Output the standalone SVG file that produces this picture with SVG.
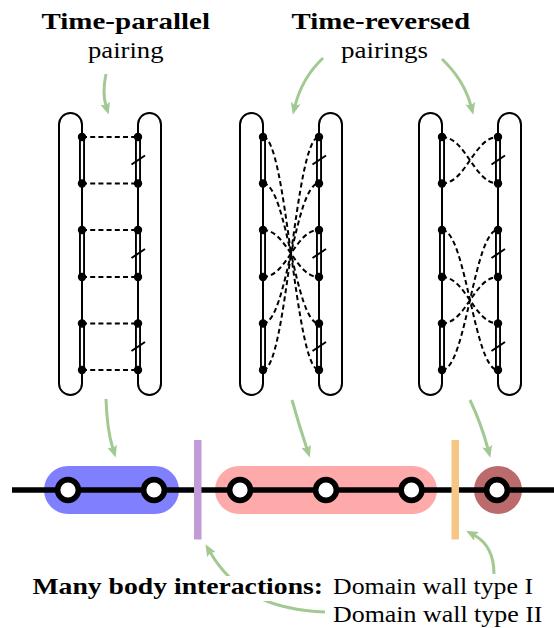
<svg xmlns="http://www.w3.org/2000/svg" width="554" height="628" viewBox="0 0 554 628">
<defs>
<style>
.t{font-family:"Liberation Serif","DejaVu Serif",serif;font-size:24px;fill:#000}
.b{font-weight:bold}
.pill{fill:none;stroke:#000;stroke-width:2}
.dbl{stroke:#000;stroke-width:6}
.dblw{stroke:#fff;stroke-width:2.2}
.sl{stroke:#000;stroke-width:2}
.dash{fill:none;stroke:#000;stroke-width:2;stroke-dasharray:5 3.2}
.dot{fill:#000}
.g{fill:none;stroke:#a3c993;stroke-width:3}
.site{fill:#fff;stroke:#000;stroke-width:5.6}
</style>
<marker id="ah" viewBox="0 0 12 10" refX="3" refY="5" markerWidth="12" markerHeight="10" markerUnits="userSpaceOnUse" orient="auto">
<path d="M0,0 L12,5 L0,10 L2.5,5 z" fill="#a3c993"/>
</marker>
<g id="lad">
<line class="dbl" x1="0" y1="137" x2="0" y2="183.5"/><line class="dblw" x1="0" y1="137" x2="0" y2="183.5"/>
<line class="dbl" x1="0" y1="230" x2="0" y2="277"/><line class="dblw" x1="0" y1="230" x2="0" y2="277"/>
<line class="dbl" x1="0" y1="323.5" x2="0" y2="370"/><line class="dblw" x1="0" y1="323.5" x2="0" y2="370"/>
</g>
<g id="dots">
<circle class="dot" cx="0" cy="137" r="4.2"/><circle class="dot" cx="0" cy="183.5" r="4.2"/>
<circle class="dot" cx="0" cy="230" r="4.2"/><circle class="dot" cx="0" cy="277" r="4.2"/>
<circle class="dot" cx="0" cy="323.5" r="4.2"/><circle class="dot" cx="0" cy="370" r="4.2"/>
</g>
<g id="slashes">
<line class="sl" x1="-6.5" y1="164.5" x2="7" y2="155.5"/>
<line class="sl" x1="-6.5" y1="258" x2="7" y2="249"/>
<line class="sl" x1="-6.5" y1="351" x2="7" y2="342"/>
</g>
</defs>
<rect width="554" height="628" fill="#fff"/>

<g id="title-parallel">
<text class="t b" x="41.5" y="29" textLength="168.5" lengthAdjust="spacingAndGlyphs">Time-parallel</text>
<text class="t" x="88" y="58" textLength="75.5" lengthAdjust="spacingAndGlyphs">pairing</text>
</g>
<g id="title-reversed">
<text class="t b" x="291.5" y="29" textLength="178.5" lengthAdjust="spacingAndGlyphs">Time-reversed</text>
<text class="t" x="341" y="58" textLength="87" lengthAdjust="spacingAndGlyphs">pairings</text>
</g>

<g id="diagram-parallel">
<rect class="pill" x="59" y="113" width="23" height="282" rx="11.5"/>
<rect class="pill" x="138" y="113" width="23" height="282" rx="11.5"/>
<use href="#lad" x="82"/><use href="#lad" x="138"/>
<use href="#slashes" x="138"/>
<g class="dash">
<line x1="82" y1="137" x2="138" y2="137"/><line x1="82" y1="183.5" x2="138" y2="183.5"/>
<line x1="82" y1="230" x2="138" y2="230"/><line x1="82" y1="277" x2="138" y2="277"/>
<line x1="82" y1="323.5" x2="138" y2="323.5"/><line x1="82" y1="370" x2="138" y2="370"/>
</g>
<use href="#dots" x="82"/><use href="#dots" x="138"/>
</g>

<g id="diagram-reversed-1">
<rect class="pill" x="240" y="113" width="23" height="282" rx="11.5"/>
<rect class="pill" x="319" y="113" width="23" height="282" rx="11.5"/>
<use href="#lad" x="263"/><use href="#lad" x="319"/>
<use href="#slashes" x="319"/>
<g class="dash">
<path d="M263,137 C287,137 295,370 319,370"/>
<path d="M263,183.5 C287,183.5 295,323.5 319,323.5"/>
<path d="M263,230 C287,230 295,277 319,277"/>
<path d="M263,277 C287,277 295,230 319,230"/>
<path d="M263,323.5 C287,323.5 295,183.5 319,183.5"/>
<path d="M263,370 C287,370 295,137 319,137"/>
</g>
<use href="#dots" x="263"/><use href="#dots" x="319"/>
</g>

<g id="diagram-reversed-2">
<rect class="pill" x="419" y="113" width="23" height="282" rx="11.5"/>
<rect class="pill" x="498" y="113" width="23" height="282" rx="11.5"/>
<use href="#lad" x="442"/><use href="#lad" x="498"/>
<use href="#slashes" x="498"/>
<g class="dash">
<path d="M442,137 C466,137 474,183.5 498,183.5"/>
<path d="M442,183.5 C466,183.5 474,137 498,137"/>
<path d="M442,230 C466,230 474,370 498,370"/>
<path d="M442,277 C466,277 474,323.5 498,323.5"/>
<path d="M442,323.5 C466,323.5 474,277 498,277"/>
<path d="M442,370 C466,370 474,230 498,230"/>
</g>
<use href="#dots" x="442"/><use href="#dots" x="498"/>
</g>

<g id="chain">
<rect x="44" y="466" width="135" height="48" rx="24" fill="#8080ff"/>
<rect x="215" y="466" width="222" height="48" rx="24" fill="#ffaaaa"/>
<circle cx="498" cy="490" r="24" fill="#bb6b6b"/>
<line x1="12" y1="490" x2="554" y2="490" stroke="#000" stroke-width="5.3"/>
<circle class="site" cx="68" cy="490" r="10.4"/>
<circle class="site" cx="154" cy="490" r="10.4"/>
<circle class="site" cx="240" cy="490" r="10.4"/>
<circle class="site" cx="326" cy="490" r="10.4"/>
<circle class="site" cx="411.5" cy="490" r="10.4"/>
<circle class="site" cx="497" cy="490" r="10.4"/>
</g>
<g id="wall-I"><rect x="194" y="440" width="7.5" height="99.5" fill="#c39bd9"/></g>
<g id="wall-II"><rect x="451.5" y="440" width="7.5" height="99.5" fill="#f5c684"/></g>

<g id="connectors">
<path class="g" marker-end="url(#ah)" d="M106,74 Q102,93 106,106"/>
<path class="g" marker-end="url(#ah)" d="M323,58 Q302,78 295,106"/>
<path class="g" marker-end="url(#ah)" d="M442,59 Q464,80 471,106"/>
<path class="g" marker-end="url(#ah)" d="M106,399 Q107,430 113,449"/>
<path class="g" marker-end="url(#ah)" d="M292,400 Q299,425 307,449"/>
<path class="g" marker-end="url(#ah)" d="M470,400 Q481,423 488,449"/>
<path class="g" marker-end="url(#ah)" d="M325,612 C275,610 235,595 210,552"/>
<path class="g" marker-end="url(#ah)" d="M494,574 Q494,546 474,535"/>
</g>

<g id="label-many-body">
<rect x="30" y="576" width="298" height="25" fill="#fff"/>
<text class="t b" x="32.5" y="594" textLength="290.5" lengthAdjust="spacingAndGlyphs">Many body interactions:</text>
</g>
<g id="label-wall-I">
<text class="t" x="333" y="594" textLength="200" lengthAdjust="spacingAndGlyphs">Domain wall type I</text>
</g>
<g id="label-wall-II">
<text class="t" x="333" y="622" textLength="209.5" lengthAdjust="spacingAndGlyphs">Domain wall type II</text>
</g>
</svg>
